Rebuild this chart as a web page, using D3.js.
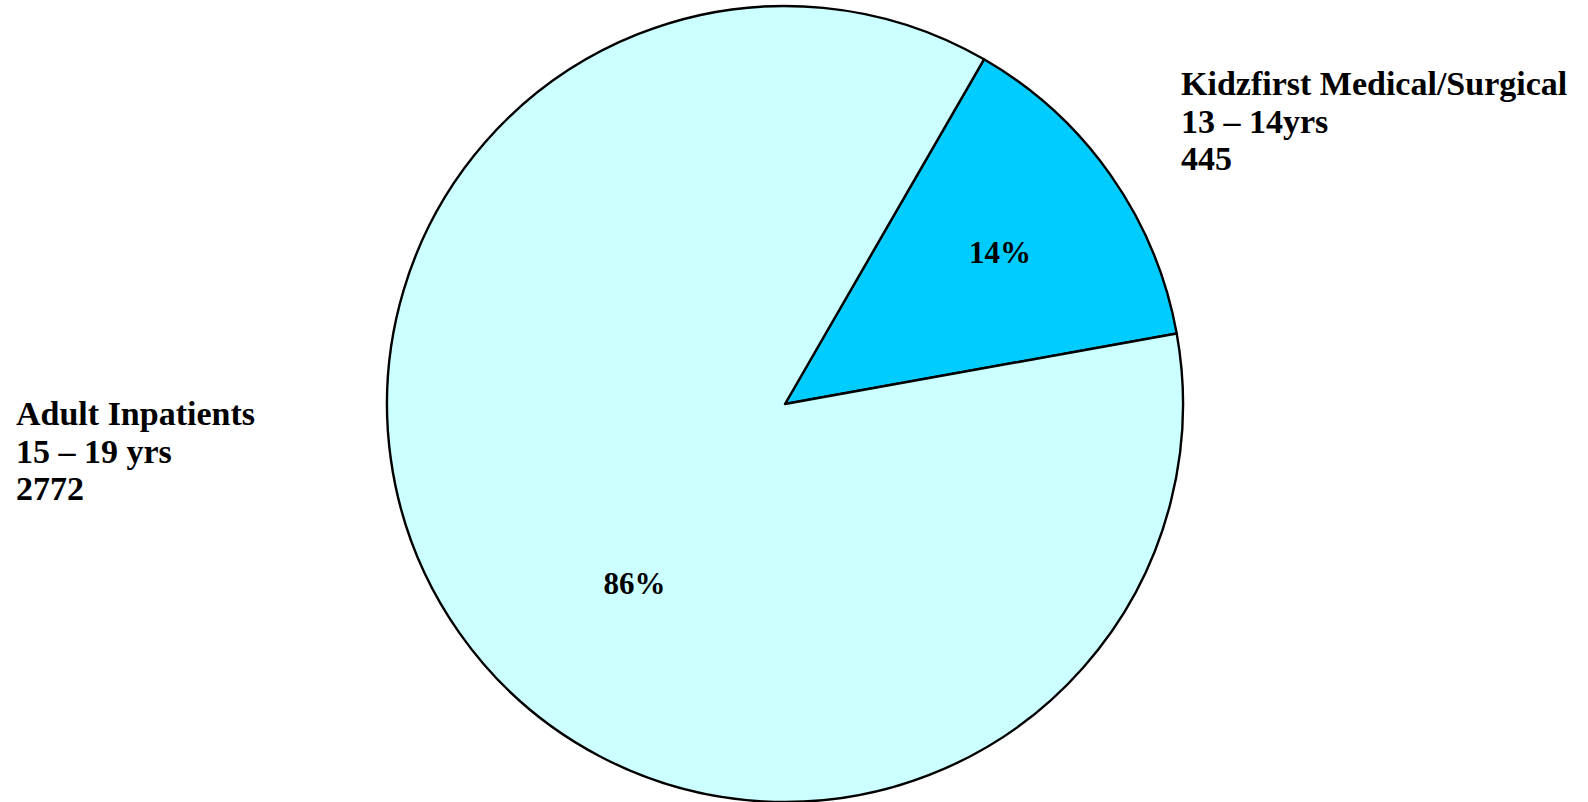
<!DOCTYPE html>
<html>
<head>
<meta charset="utf-8">
<script src="https://cdn.jsdelivr.net/npm/d3@7"></script>
<style>
  html, body { margin: 0; padding: 0; background: #fff; }
  svg { display: block; }
  text { font-family: 'Liberation Serif', 'Times New Roman', serif; font-weight: bold; fill: #000; }
</style>
</head>
<body>
<svg id="chart" width="1588" height="802"></svg>
<script>
// data
const categories = ['Kidzfirst Medical/Surgical', 'Adult Inpatients']
const ageBands = ['13 – 14yrs', '15 – 19 yrs']
const counts = [445, 2772]
const colors = ['#00CCFF', '#CCFFFF']

const width = 1588
const height = 802
const cx = 785
const cy = 404
const radius = 398

const svg = d3.select('#chart')

const data = categories.map((c, i) => ({ name: c, band: ageBands[i], value: counts[i], color: colors[i] }))
const total = d3.sum(counts)

// pie starts at about 1 o'clock like the excel one
const pie = d3.pie()
  .sort(null)
  .value(d => d.value)
  .startAngle(Math.PI / 6)
  .endAngle(Math.PI / 6 + 2 * Math.PI)

const arc = d3.arc().innerRadius(0).outerRadius(radius)

const g = svg.append('g').attr('transform', `translate(${cx},${cy})`)
const arcs = pie(data)

g.selectAll('path')
  .data(arcs)
  .enter()
  .append('path')
  .attr('d', arc)
  .attr('fill', d => d.data.color)
  .attr('stroke', '#000')
  .attr('stroke-width', 2.4)
  .attr('stroke-linejoin', 'round')

// percent labels, excel puts them a bit off the centroid
const labelPos = [
  { r: 0.66, da: 0 },
  { r: 0.59, da: -15 },
]
g.selectAll('.pct')
  .data(arcs)
  .enter()
  .append('text')
  .attr('class', 'pct')
  .attr('text-anchor', 'middle')
  .attr('font-size', 31)
  .attr('x', (d, i) => {
    const a = (d.startAngle + d.endAngle) / 2 + labelPos[i].da * Math.PI / 180
    return Math.sin(a) * radius * labelPos[i].r
  })
  .attr('y', (d, i) => {
    const a = (d.startAngle + d.endAngle) / 2 + labelPos[i].da * Math.PI / 180
    return -Math.cos(a) * radius * labelPos[i].r + 10
  })
  .text(d => `${Math.round(d.value / total * 100)}%`)

// category labels
const catLabels = [
  { x: 1181, y: 95 },
  { x: 16, y: 425 },
]
data.forEach((d, i) => {
  const t = svg.append('text')
    .attr('x', catLabels[i].x)
    .attr('y', catLabels[i].y)
    .attr('font-size', 34)
  const lines = [d.name, d.band, String(d.value)]
  lines.forEach((l, j) => {
    t.append('tspan')
      .attr('x', catLabels[i].x)
      .attr('dy', j === 0 ? 0 : 37.5)
      .text(l)
  })
})
</script>
</body>
</html>
